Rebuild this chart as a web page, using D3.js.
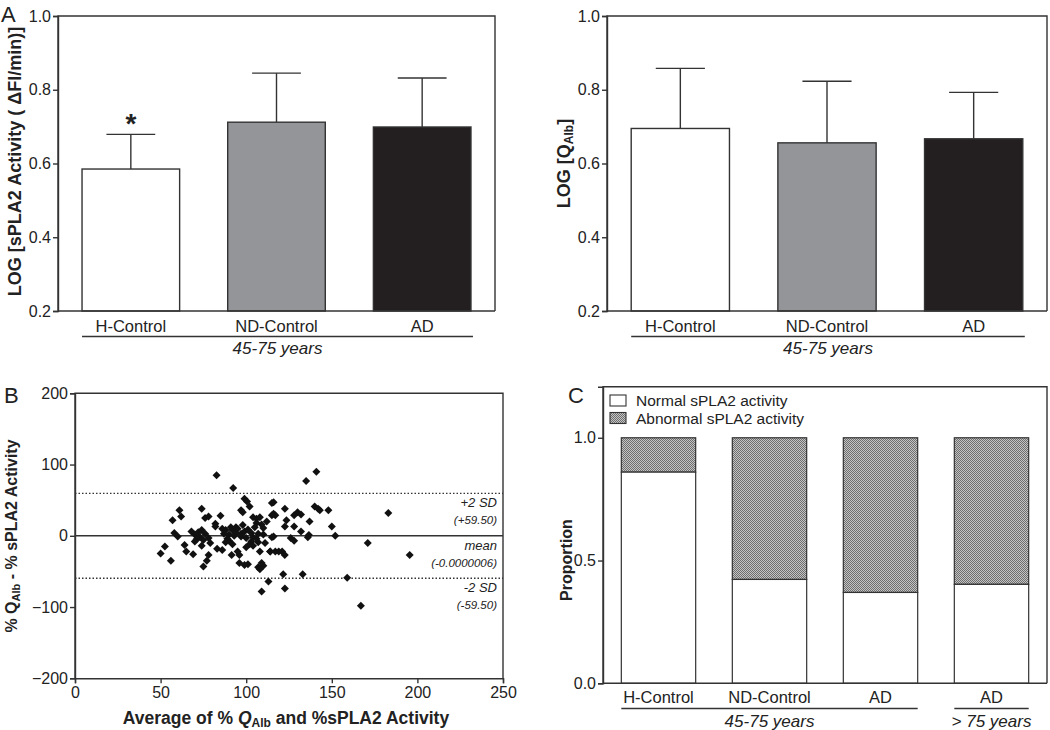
<!DOCTYPE html>
<html><head><meta charset="utf-8">
<script src="https://cdn.jsdelivr.net/npm/d3@7"></script>
<style>
body{margin:0;background:#fff;}
svg{display:block;font-family:"Liberation Sans",Arial,sans-serif;}
text{fill:#222;}
</style></head>
<body><svg id="c" width="1050" height="730"></svg>
<script>
// ---------- DATA ----------
const groupsA = ["H-Control", "ND-Control", "AD"];
const sPLA2Mean = [0.585, 0.712, 0.699];
const sPLA2SD = [0.094, 0.133, 0.133];
const qalbMean = [0.695, 0.656, 0.667];
const qalbSD = [0.163, 0.167, 0.126];
const ticksA = [0.2, 0.4, 0.6, 0.8, 1.0];
const barColors = ["#ffffff", "#939598", "#231f20"];

// Bland-Altman scatter: average (x) vs difference (y)
const baAvg = [82.7, 92.4, 61, 57, 62, 74, 76, 78, 85, 82, 58, 60, 52.5, 50, 56, 64, 65, 69, 70, 72,
  73, 71, 78, 79, 74, 78, 77, 75, 83, 86, 82, 88, 90, 89, 92, 93, 91, 94, 90, 91.5,
  95, 96, 99, 101, 96, 97, 98, 99, 100.5, 102, 104, 106, 108, 106, 109, 110, 95, 97, 100, 97,
  104, 103, 106, 107, 102, 99, 108, 107, 108, 110, 109, 113, 109, 115, 115, 115, 114, 141, 135, 116,
  116, 117, 122.6, 123.5, 122.6, 128, 128, 130, 132, 137, 132, 136.6, 136, 140, 142, 143, 148, 150, 152, 116,
  126, 128, 114, 117, 119, 121, 122.5, 121.6, 133, 122.6, 159, 171, 195.5, 183, 167,
  68, 70, 74, 76, 75, 87, 88, 92, 94, 86, 98, 101, 103, 105, 107, 104, 100, 110, 112, 111];
const baDiff = [85, 67, 36, 22, 27, 38, 25, 27, 28, 17, 4, -1, -15, -25, -35, -13, -22, -26, 2, 5,
  -2, -5, -3, -10, -14, -27, -35, -43, -18, -20, 13, 8, 2, -4, 8, 0, 12, 12, -7, -27,
  -22, -38, -41, -40, -27, 36, 33, 52, 48, 41, 26, 24, 26, 18, 16, 11, 10, 3, -3, -1,
  -2, -8, -4, -9, -12, 6, -22, -44, -47, -42, -38, -64, -78, 46, 29, -2, -22, 90, 77, 47,
  31, 29, 38, 22, 13, 13, 29, 33, 30, 20, 6, 1, -2, 41, 38, 36, 36, 13, 0, -1,
  -3, -7, -22, -22, -22, -22, -27, -54, -54, -74, -59, -10, -27, 32, -98,
  6, -8, 8, 3, -6, 3, -9, -12, 4, 10, 15, 9, 4, 12, 3, -14, -16, 2, 20, -10];
const baMean = -0.0000006;
const baSD2 = 59.5;
const ticksBx = [0, 50, 100, 150, 200, 250];
const ticksBy = [-200, -100, 0, 100, 200];

// Proportions
const groupsC = ["H-Control", "ND-Control", "AD", "AD"];
const normalProp = [0.86, 0.423, 0.37, 0.403];
const ticksC = [0.0, 0.5, 1.0];

// ---------- DRAW ----------
const svg = d3.select("#c");
const ink = "#333";
const defs = svg.append("defs");
const pat = defs.append("pattern").attr("id", "hatch").attr("width", 2).attr("height", 2)
  .attr("patternUnits", "userSpaceOnUse");
pat.append("rect").attr("width", 2).attr("height", 2).attr("fill", "#c4c4c4");
pat.append("rect").attr("width", 1).attr("height", 1).attr("fill", "#6e6e6e");
pat.append("rect").attr("x", 1).attr("y", 1).attr("width", 1).attr("height", 1).attr("fill", "#6e6e6e");

function styleAxis(g) {
  g.selectAll("path,line").attr("stroke", ink).attr("stroke-width", 1.4);
  g.selectAll("text").attr("fill", "#222").style("font-size", "16px");
}
function frame(x0, x1, y0, y1) {
  svg.append("path").attr("d", `M${x0},${y1}V${y0}H${x1}V${y1}`)
    .attr("fill", "none").attr("stroke", ink).attr("stroke-width", 1.4);
}

function barPanel(x0, x1, means, sds, labelX, yLabelFn) {
  const y = d3.scaleLinear().domain([0.2, 1.0]).range([311, 16]);
  const x = d3.scaleBand().domain(groupsA).range([x0, x1]).paddingInner(0.33).paddingOuter(0.165);
  frame(x0, x1, 16, 311);
  const g = svg.append("g");
  groupsA.forEach((k, i) => {
    const cx = x(k) + x.bandwidth() / 2;
    const top = y(means[i] + sds[i]);
    g.append("line").attr("x1", cx).attr("x2", cx).attr("y1", y(means[i])).attr("y2", top)
      .attr("stroke", ink).attr("stroke-width", 1.4);
    g.append("line").attr("x1", cx - x.bandwidth() / 4).attr("x2", cx + x.bandwidth() / 4)
      .attr("y1", top).attr("y2", top).attr("stroke", ink).attr("stroke-width", 1.4);
    g.append("rect").attr("x", x(k)).attr("width", x.bandwidth()).attr("y", y(means[i]))
      .attr("height", y(0.2) - y(means[i])).attr("fill", barColors[i])
      .attr("stroke", ink).attr("stroke-width", 1.4);
  });
  const ay = svg.append("g").attr("transform", `translate(${x0},0)`)
    .call(d3.axisLeft(y).tickValues(ticksA).tickFormat(d3.format(".1f")).tickSize(5).tickPadding(2));
  styleAxis(ay);
  svg.append("line").attr("x1", x0).attr("x2", x1).attr("y1", 311).attr("y2", 311)
    .attr("stroke", ink).attr("stroke-width", 1.4);
  groupsA.forEach(k => {
    svg.append("text").attr("x", x(k) + x.bandwidth() / 2).attr("y", 332).attr("text-anchor", "middle")
      .style("font-size", "16.5px").text(k);
  });
  const u0 = x(groupsA[0]), u1 = x(groupsA[2]) + x.bandwidth() + 2;
  svg.append("line").attr("x1", u0).attr("x2", u1).attr("y1", 336.5).attr("y2", 336.5)
    .attr("stroke", ink).attr("stroke-width", 1.4);
  svg.append("text").attr("x", (u0 + u1) / 2).attr("y", 354).attr("text-anchor", "middle")
    .style("font-size", "17px").style("font-style", "italic").text("45-75 years");
  yLabelFn(labelX, (16 + 311) / 2);
  return {x, y};
}

// Panel A left
const pA = barPanel(58, 495, sPLA2Mean, sPLA2SD, 21, (lx, ly) => {
  svg.append("text").attr("transform", `translate(${lx},${ly - 2}) rotate(-90)`).attr("text-anchor", "middle")
    .style("font-size", "18px").style("font-weight", "bold").text("LOG [sPLA2 Activity ( \u0394FI/min)]");
});
svg.append("text").attr("x", pA.x("H-Control") + pA.x.bandwidth() / 2)
  .attr("y", pA.y(sPLA2Mean[0] + sPLA2SD[0]) - 1).attr("text-anchor", "middle")
  .style("font-size", "28px").style("font-weight", "bold").text("*");
svg.append("text").attr("x", 1).attr("y", 22).style("font-size", "22px").text("A");

// Panel A right
barPanel(607, 1047, qalbMean, qalbSD, 570, (lx, ly) => {
  const t = svg.append("text").attr("transform", `translate(${lx},${ly}) rotate(-90)`).attr("text-anchor", "middle")
    .style("font-size", "18px").style("font-weight", "bold");
  t.append("tspan").text("LOG [Q");
  t.append("tspan").attr("baseline-shift", "-25%").style("font-size", "12px").text("Alb");
  t.append("tspan").text("]");
});

// Panel B
{
  const x = d3.scaleLinear().domain([0, 250]).range([75, 503]);
  const y = d3.scaleLinear().domain([-200, 200]).range([678.3, 393.3]);
  frame(75, 503, 393.3, 678.3);
  svg.append("line").attr("x1", 75).attr("x2", 503).attr("y1", y(baMean)).attr("y2", y(baMean))
    .attr("stroke", ink).attr("stroke-width", 1.6);
  [baSD2, -baSD2].forEach(v => {
    svg.append("line").attr("x1", 75).attr("x2", 503).attr("y1", y(v)).attr("y2", y(v))
      .attr("stroke", ink).attr("stroke-width", 1.4).attr("stroke-dasharray", "1.5,2");
  });
  const sym = d3.symbol().type(d3.symbolSquare).size(32);
  svg.append("g").selectAll("path").data(baAvg).join("path")
    .attr("d", sym)
    .attr("transform", (d, i) => `translate(${x(d)},${y(baDiff[i])}) rotate(45)`)
    .attr("fill", "#111");
  const ann = [["+2 SD", y(baSD2) + 14], ["(+59.50)", y(baSD2) + 31],
    ["mean", y(baMean) + 14], ["(-0.0000006)", y(baMean) + 31],
    ["-2 SD", y(-baSD2) + 14], ["(-59.50)", y(-baSD2) + 31]];
  ann.forEach(([t, yy], i) => {
    svg.append("text").attr("x", 497).attr("y", yy).attr("text-anchor", "end")
      .style("font-size", i % 2 === 0 ? "13px" : "11.5px").style("font-style", "italic").text(t);
  });
  const ax = svg.append("g").attr("transform", "translate(0,678.3)")
    .call(d3.axisBottom(x).tickValues(ticksBx).tickSize(5).tickPadding(3));
  styleAxis(ax);
  const ay = svg.append("g").attr("transform", "translate(75,0)")
    .call(d3.axisLeft(y).tickValues(ticksBy).tickSize(5).tickPadding(2));
  styleAxis(ay);
  const xt = svg.append("text").attr("x", 286).attr("y", 724).attr("text-anchor", "middle")
    .style("font-size", "17.5px").style("font-weight", "bold");
  xt.append("tspan").text("Average of % ");
  xt.append("tspan").style("font-style", "italic").text("Q");
  xt.append("tspan").attr("baseline-shift", "-25%").style("font-size", "12px").text("Alb");
  xt.append("tspan").text(" and %sPLA2 Activity");
  const yt = svg.append("text").attr("transform", `translate(17,536) rotate(-90)`).attr("text-anchor", "middle")
    .style("font-size", "16px").style("font-weight", "bold");
  yt.append("tspan").text("% Q");
  yt.append("tspan").attr("baseline-shift", "-25%").style("font-size", "11px").text("Alb");
  yt.append("tspan").text(" - % sPLA2 Activity");
  svg.append("text").attr("x", 4).attr("y", 403).style("font-size", "22px").text("B");
}

// Panel C
{
  const ids = groupsC.map((d, i) => i);
  const x = d3.scaleBand().domain(ids).range([603, 1047]).paddingInner(0.33).paddingOuter(0.165);
  const y = d3.scaleLinear().domain([0, 1.208]).range([683.3, 386.7]);
  frame(603, 1047, 386.7, 683.3);
  ids.forEach(i => {
    svg.append("rect").attr("x", x(i)).attr("width", x.bandwidth()).attr("y", y(1))
      .attr("height", y(normalProp[i]) - y(1)).attr("fill", "url(#hatch)")
      .attr("stroke", ink).attr("stroke-width", 1.2);
    svg.append("rect").attr("x", x(i)).attr("width", x.bandwidth()).attr("y", y(normalProp[i]))
      .attr("height", y(0) - y(normalProp[i])).attr("fill", "#fff")
      .attr("stroke", ink).attr("stroke-width", 1.2);
  });
  const ay = svg.append("g").attr("transform", "translate(603,0)")
    .call(d3.axisLeft(y).tickValues(ticksC).tickFormat(d3.format(".1f")).tickSize(5).tickPadding(2));
  styleAxis(ay);
  svg.append("line").attr("x1", 603).attr("x2", 1047).attr("y1", y(0)).attr("y2", y(0))
    .attr("stroke", ink).attr("stroke-width", 1.4);
  ids.forEach(i => {
    svg.append("text").attr("x", x(i) + x.bandwidth() / 2).attr("y", 703).attr("text-anchor", "middle")
      .style("font-size", "16.5px").text(groupsC[i]);
  });
  const u = [[x(0), x(2) + x.bandwidth(), "45-75 years"], [x(3), x(3) + x.bandwidth(), "> 75 years"]];
  u.forEach(([a, b, t]) => {
    svg.append("line").attr("x1", a).attr("x2", b).attr("y1", 708.5).attr("y2", 708.5)
      .attr("stroke", ink).attr("stroke-width", 1.4);
    svg.append("text").attr("x", (a + b) / 2).attr("y", 727).attr("text-anchor", "middle")
      .style("font-size", "17px").style("font-style", "italic").text(t);
  });
  svg.append("text").attr("transform", `translate(572,560) rotate(-90)`).attr("text-anchor", "middle")
    .style("font-size", "16px").style("font-weight", "bold").text("Proportion");
  // legend
  const leg = [["Normal sPLA2 activity", "#fff"], ["Abnormal sPLA2 activity", "url(#hatch)"]];
  leg.forEach(([t, f], i) => {
    svg.append("rect").attr("x", 610).attr("y", 395 + i * 17.5).attr("width", 16).attr("height", 11)
      .attr("fill", f).attr("stroke", ink).attr("stroke-width", 1.1);
    svg.append("text").attr("x", 636).attr("y", 406 + i * 17.5).style("font-size", "15.5px").text(t);
  });
  svg.append("text").attr("x", 568).attr("y", 403).style("font-size", "22px").text("C");
}
</script></body></html>
